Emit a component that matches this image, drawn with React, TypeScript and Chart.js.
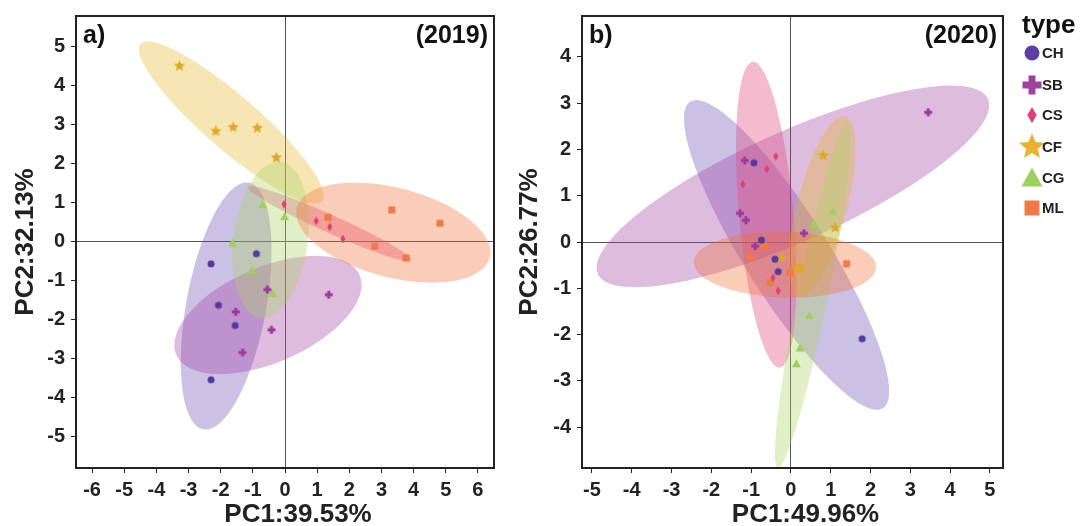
import React, { useEffect, useRef } from 'react';
import { Chart, registerables } from 'chart.js';
Chart.register(...registerables);

const TYPES = ['CH', 'SB', 'CS', 'CF', 'CG', 'ML'];
const SHAPES = ['circle', 'plus', 'diamond', 'star', 'triangle', 'square'];
const MARKER_COLORS = ['#56399c', '#9c3a9c', '#e23c78', '#dfa82a', '#9fd05c', '#ee7a48'];
const LEGEND_COLORS = ['#5c3fa6', '#a03fa0', '#e03f7e', '#e8b234', '#9dd05e', '#f07a48'];
const ELLIPSE_COLORS = [
  'rgba(106,78,178,0.35)',
  'rgba(161,64,161,0.35)',
  'rgba(226,75,126,0.38)',
  'rgba(226,184,41,0.35)',
  'rgba(172,212,98,0.35)',
  'rgba(241,112,55,0.35)',
];

// ---- 2019 (panel a) points [PC1, PC2]
const ch2019 = [[-0.89, -0.31], [-2.30, -0.57], [-2.07, -1.63], [-1.55, -2.15], [-2.30, -3.54]];
const sb2019 = [[-1.53, -1.80], [-0.55, -1.23], [-0.42, -2.26], [1.36, -1.36], [-1.32, -2.84]];
const cs2019 = [[-0.03, 0.96], [0.97, 0.53], [1.39, 0.38], [1.80, 0.07]];
const cf2019 = [[-3.28, 4.5], [-2.15, 2.83], [-1.61, 2.93], [-0.86, 2.91], [-0.27, 2.15]];
const cg2019 = [[-0.70, 0.94], [-0.01, 0.64], [-1.63, -0.04], [-1.03, -0.74], [-0.39, -1.33]];
const ml2019 = [[3.32, 0.81], [4.82, 0.47], [1.34, 0.62], [2.79, -0.12], [3.76, -0.42]];

// ---- 2020 (panel b) points
const ch2020 = [[-0.93, 1.71], [-0.74, 0.04], [-0.40, -0.37], [-0.32, -0.64], [1.79, -2.09]];
const sb2020 = [[3.45, 2.80], [-1.16, 1.76], [-1.28, 0.62], [-1.13, 0.47], [0.33, 0.19], [-0.90, -0.09]];
const cs2020 = [[-0.38, 1.85], [-0.61, 1.58], [-1.21, 1.25], [-0.32, -1.05], [-0.45, -0.77]];
const cf2020 = [[0.81, 1.87], [1.11, 0.31], [-0.23, -0.34], [0.23, -0.54], [0.18, -0.6]];
const cg2020 = [[1.05, 0.65], [0.58, 0.39], [0.46, -1.59], [0.23, -2.29], [0.14, -2.63]];
const ml2020 = [[-0.68, -0.09], [-1.03, -0.32], [-0.03, -0.66], [-0.53, -0.87], [1.40, -0.47]];

// ---- confidence ellipses: [centerX, centerY, axis1X, axis1Y, axis2X, axis2Y] (data units)
const ell2019 = [
  [-1.83, -1.65, 0.71, 3.16, 1.22, -0.19],
  [-0.53, -1.88, 2.85, 1.02, 0.59, -1.12],
  [1.39, 0.46, 2.54, -0.94, -0.115, -0.21],
  [-1.67, 3.05, 2.82, -2.01, 0.55, 0.52],
  [-0.45, 0.05, 0.3, 2.0, 1.15, -0.1],
  [3.37, 0.23, 3.0, -0.64, -0.35, -1.11],
];
const ell2020 = [
  [-0.11, -0.28, 2.42, -3.31, 0.89, 0.48],
  [0.05, 1.20, 4.90, 1.89, 0.57, -1.08],
  [-0.62, 0.59, -0.34, 3.30, 0.68, 0.05],
  [0.78, 0.77, 0.58, 1.94, 0.61, -0.13],
  [0.55, -1.16, 0.88, 3.72, 0.37, -0.06],
  [-0.15, -0.49, 2.29, -0.06, -0.03, -0.71],
];

const xTicks2019 = [-6, -5, -4, -3, -2, -1, 0, 1, 2, 3, 4, 5, 6];
const yTicks2019 = [-5, -4, -3, -2, -1, 0, 1, 2, 3, 4, 5];
const xTicks2020 = [-5, -4, -3, -2, -1, 0, 1, 2, 3, 4, 5];
const yTicks2020 = [-4, -3, -2, -1, 0, 1, 2, 3, 4];

const FONT = "'Liberation Sans', Arial, sans-serif";

function drawShape(ctx: CanvasRenderingContext2D, shape: string, cx: number, cy: number, s: number, color: string) {
  ctx.save();
  ctx.fillStyle = color;
  ctx.beginPath();
  const r = s / 2;
  if (shape === 'circle') {
    ctx.arc(cx, cy, r, 0, Math.PI * 2);
  } else if (shape === 'plus') {
    const t = s * 0.36;
    ctx.rect(cx - r, cy - t / 2, s, t);
    ctx.rect(cx - t / 2, cy - r, t, s);
  } else if (shape === 'diamond') {
    ctx.moveTo(cx, cy - r * 1.25);
    ctx.lineTo(cx + r * 0.72, cy);
    ctx.lineTo(cx, cy + r * 1.25);
    ctx.lineTo(cx - r * 0.72, cy);
    ctx.closePath();
  } else if (shape === 'star') {
    const inner = r * 0.45;
    for (let i = 0; i < 10; i++) {
      const ang = -Math.PI / 2 + (i * Math.PI) / 5;
      const rr = i % 2 === 0 ? r : inner;
      const px = cx + rr * Math.cos(ang);
      const py = cy + rr * Math.sin(ang);
      if (i === 0) ctx.moveTo(px, py); else ctx.lineTo(px, py);
    }
    ctx.closePath();
  } else if (shape === 'triangle') {
    ctx.moveTo(cx, cy - r);
    ctx.lineTo(cx + r, cy + r * 0.8);
    ctx.lineTo(cx - r, cy + r * 0.8);
    ctx.closePath();
  } else {
    ctx.rect(cx - r, cy - r, s, s);
  }
  ctx.fill('nonzero');
  ctx.restore();
}

const MARKER_SIZES = [7, 8, 7, 12, 9, 7];

function makeMarker(i: number): HTMLCanvasElement {
  const size = MARKER_SIZES[i];
  const c = document.createElement('canvas');
  const dim = Math.ceil(size * 1.4) + 2;
  c.width = dim;
  c.height = dim;
  const ctx = c.getContext('2d')!;
  drawShape(ctx, SHAPES[i], dim / 2, dim / 2, size, MARKER_COLORS[i]);
  return c;
}

function ellipsePlugin(ells: number[][]) {
  return {
    id: 'ellipses',
    beforeDatasetsDraw(chart: any) {
      const { ctx, chartArea, scales } = chart;
      ctx.save();
      ctx.beginPath();
      ctx.rect(chartArea.left, chartArea.top, chartArea.right - chartArea.left, chartArea.bottom - chartArea.top);
      ctx.clip();
      ells.forEach((e, i) => {
        const [cx, cy, ux, uy, vx, vy] = e;
        ctx.beginPath();
        const n = 120;
        for (let k = 0; k <= n; k++) {
          const t = (k / n) * Math.PI * 2;
          const dx = cx + ux * Math.cos(t) + vx * Math.sin(t);
          const dy = cy + uy * Math.cos(t) + vy * Math.sin(t);
          const px = scales.x.getPixelForValue(dx);
          const py = scales.y.getPixelForValue(dy);
          if (k === 0) ctx.moveTo(px, py); else ctx.lineTo(px, py);
        }
        ctx.closePath();
        ctx.fillStyle = ELLIPSE_COLORS[i];
        ctx.fill();
      });
      ctx.restore();
    },
  };
}

function framePlugin(label: string, year: string, xTitle: string) {
  return {
    id: 'frame',
    afterDraw(chart: any) {
      const { ctx, chartArea } = chart;
      ctx.save();
      ctx.strokeStyle = '#222';
      ctx.lineWidth = 2;
      ctx.strokeRect(chartArea.left, chartArea.top, chartArea.right - chartArea.left, chartArea.bottom - chartArea.top);
      ctx.fillStyle = '#111';
      ctx.font = `bold 25px ${FONT}`;
      ctx.textBaseline = 'middle';
      ctx.textAlign = 'left';
      ctx.fillText(label, chartArea.left + 7, chartArea.top + 20);
      ctx.textAlign = 'right';
      ctx.fillText(year, chartArea.right - 6, chartArea.top + 20);
      // x-axis title
      ctx.fillStyle = '#222';
      ctx.font = `bold 26px ${FONT}`;
      ctx.textAlign = 'center';
      ctx.fillText(xTitle, (chartArea.left + chartArea.right) / 2 + 13, 515);
      ctx.restore();
    },
  };
}

const legendPlugin = {
  id: 'typeLegend',
  afterDraw(chart: any) {
    const { ctx, chartArea } = chart;
    ctx.save();
    const x0 = chartArea.right;
    ctx.fillStyle = '#111';
    ctx.font = `bold 26px ${FONT}`;
    ctx.textAlign = 'left';
    ctx.textBaseline = 'alphabetic';
    ctx.fillText('type', x0 + 19, 33);
    const rowsY = [53, 85, 115, 147, 178, 208];
    const sizes = [15, 19, 13, 27, 21, 15];
    TYPES.forEach((t, i) => {
      const y = rowsY[i];
      drawShape(ctx, SHAPES[i], x0 + 29, y, sizes[i], LEGEND_COLORS[i]);
      ctx.fillStyle = '#222';
      ctx.font = `bold 15px ${FONT}`;
      ctx.textBaseline = 'middle';
      ctx.fillText(t, x0 + 39, y + 1);
    });
    ctx.restore();
  },
};

function makeConfig(
  pts: number[][][],
  ells: number[][],
  xr: [number, number],
  yr: [number, number],
  xTitle: string,
  yTitle: string,
  yWidth: number,
  yTitlePad: number,
  padRight: number,
  label: string,
  year: string,
  withLegend: boolean,
  xTicks: number[],
  yTicks: number[],
): any {
  const markers = TYPES.map((_, i) => makeMarker(i));
  const tickFont = { family: FONT, size: 20, weight: 'bold' as const, lineHeight: 1 };
  const titleFont = { family: FONT, size: 26, weight: 'bold' as const, lineHeight: 1 };
  const grid = {
    color: (c: any) => (c.tick && c.tick.value === 0 ? '#555' : 'rgba(0,0,0,0)'),
    tickColor: '#222',
    lineWidth: 1,
    drawTicks: true,
    tickLength: 5,
  };
  return {
    type: 'scatter',
    data: {
      datasets: TYPES.map((t, i) => ({
        label: t,
        data: pts[i].map((p) => ({ x: p[0], y: p[1] })),
        pointStyle: markers[i],
        pointRadius: 5,
        backgroundColor: MARKER_COLORS[i],
        borderColor: MARKER_COLORS[i],
      })),
    },
    options: {
      animation: false,
      responsive: false,
      maintainAspectRatio: false,
      devicePixelRatio: 1,
      layout: { padding: { top: 14, right: padRight, left: 0, bottom: 0 } },
      plugins: { legend: { display: false }, tooltip: { enabled: false } },
      scales: {
        x: {
          type: 'linear',
          min: xr[0],
          max: xr[1],
          afterBuildTicks: (s: any) => { s.ticks = xTicks.map((v) => ({ value: v })); },
          afterFit: (s: any) => { s.height = 58; },
          border: { display: false },
          grid,
          ticks: { font: tickFont, color: '#222', padding: 7, maxRotation: 0, autoSkip: false },
          title: { display: false, text: xTitle },
        },
        y: {
          type: 'linear',
          min: yr[0],
          max: yr[1],
          afterBuildTicks: (s: any) => { s.ticks = yTicks.map((v) => ({ value: v })); },
          afterFit: (s: any) => { s.width = yWidth; },
          border: { display: false },
          grid,
          ticks: { font: tickFont, color: '#222', padding: 6, autoSkip: false },
          title: { display: true, text: yTitle, font: titleFont, color: '#222', padding: { top: yTitlePad, bottom: 0 } },
        },
      },
    },
    plugins: withLegend
      ? [ellipsePlugin(ells), framePlugin(label, year, xTitle), legendPlugin]
      : [ellipsePlugin(ells), framePlugin(label, year, xTitle)],
  };
}

export default function App() {
  const refA = useRef<HTMLCanvasElement>(null);
  const refB = useRef<HTMLCanvasElement>(null);

  useEffect(() => {
    const a = new Chart(
      refA.current!,
      makeConfig(
        [ch2019, sb2019, cs2019, cf2019, cg2019, ml2019],
        ell2019,
        [-6.5, 6.5],
        [-5.8, 5.78],
        'PC1:39.53%',
        'PC2:32.13%',
        76,
        13,
        4,
        'a)',
        '(2019)',
        false,
        xTicks2019,
        yTicks2019,
      ),
    );
    const b = new Chart(
      refB.current!,
      makeConfig(
        [ch2020, sb2020, cs2020, cf2020, cg2020, ml2020],
        ell2020,
        [-5.25, 5.33],
        [-4.88, 4.88],
        'PC1:49.96%',
        'PC2:26.77%',
        77,
        12,
        81,
        'b)',
        '(2020)',
        true,
        xTicks2020,
        yTicks2020,
      ),
    );
    return () => {
      a.destroy();
      b.destroy();
    };
  }, []);

  return (
    <div style={{ position: 'fixed', left: 0, top: 0, width: 1084, height: 526, background: '#fff' }}>
      <canvas ref={refA} width={500} height={526} style={{ position: 'absolute', left: 0, top: 0, width: 500, height: 526 }} />
      <canvas ref={refB} width={579} height={526} style={{ position: 'absolute', left: 505, top: 0, width: 579, height: 526 }} />
    </div>
  );
}
